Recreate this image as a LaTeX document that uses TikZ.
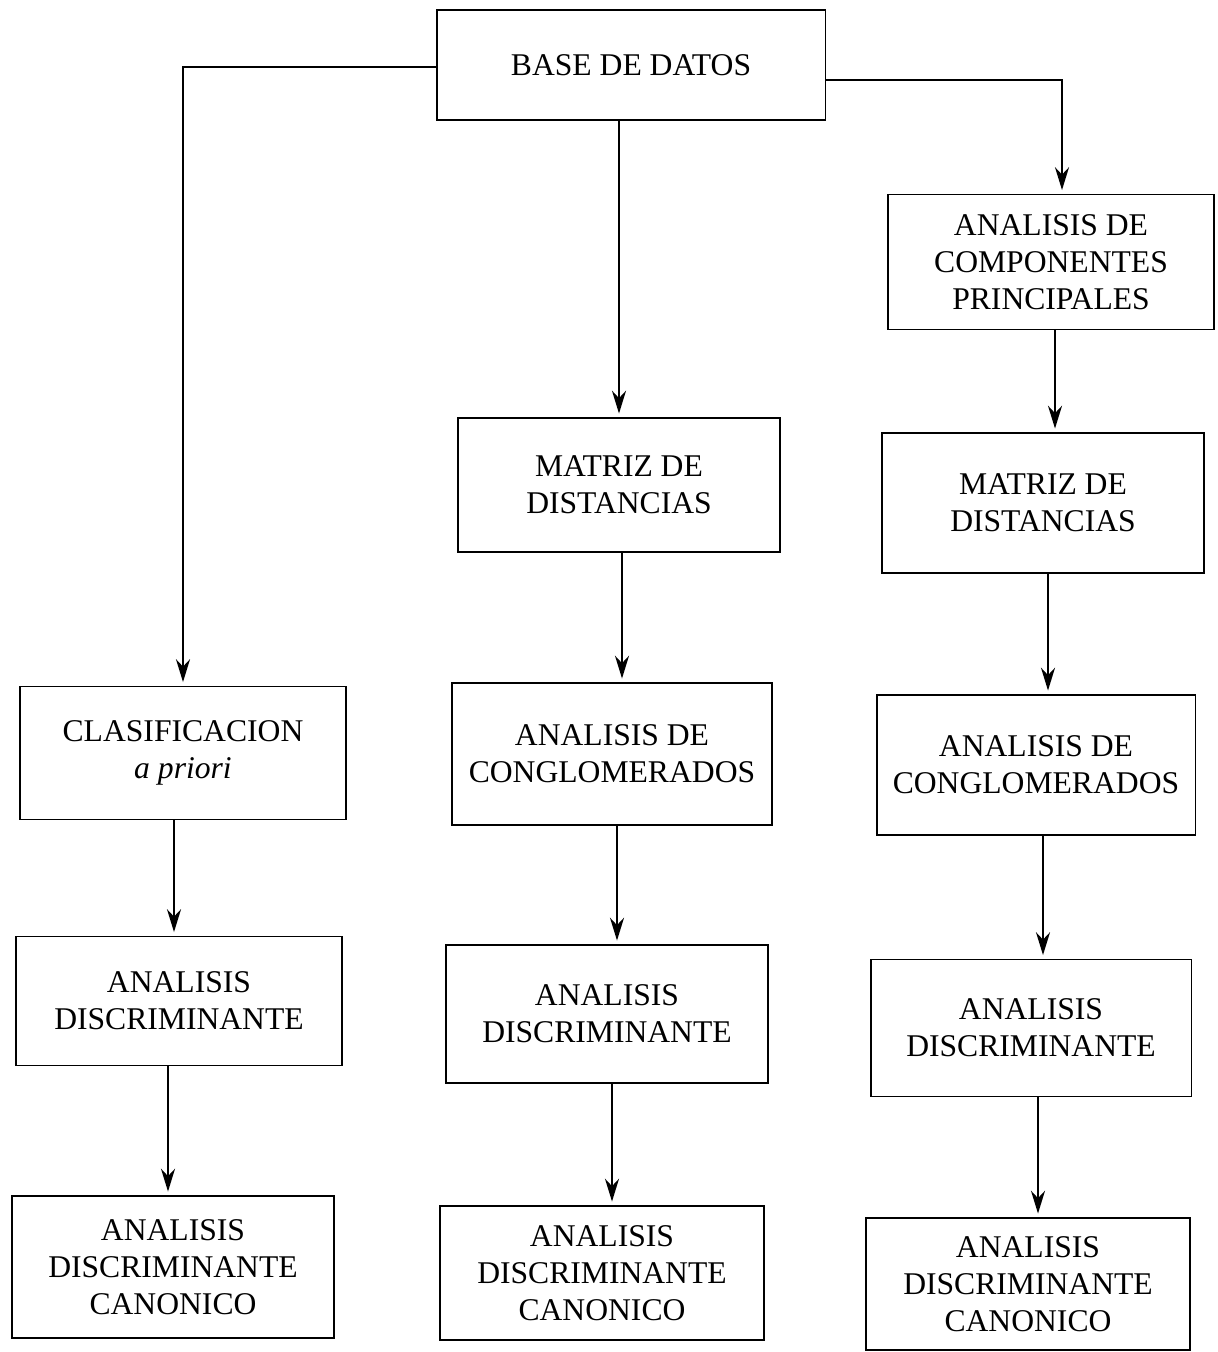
\documentclass[tikz,border=0pt]{standalone}
\usepackage{fontspec}
\setmainfont{Liberation Serif}
\usetikzlibrary{arrows.meta}
\begin{document}
\begin{tikzpicture}[x=0.02cm,y=-0.02cm,
  box/.style={draw, line width=1.1pt, align=center, inner sep=2pt,
    font=\fontsize{18}{21}\selectfont, minimum width=6.5cm, minimum height=2.7cm},
  arr/.style={draw, line width=1pt, -{Stealth[length=13pt,width=8pt]}, shorten >=2pt}]
\useasboundingbox (0,0) rectangle (1217,1352);
\node[box, minimum width=7.78cm, minimum height=2.2cm] (base) at (631,65) {BASE DE DATOS};
% left column
\node[box, minimum width=6.52cm, minimum height=2.66cm] (c1) at (183,753) {CLASIFICACION\\\textit{a priori}};
\node[box, minimum width=6.52cm, minimum height=2.58cm] (d1) at (179,1001) {ANALISIS\\DISCRIMINANTE};
\node[box, minimum width=6.44cm, minimum height=2.84cm] (k1) at (173,1267) {ANALISIS\\DISCRIMINANTE\\CANONICO};
% middle column
\node[box, minimum width=6.44cm, minimum height=2.68cm] (m2) at (619,485) {MATRIZ DE\\DISTANCIAS};
\node[box, minimum width=6.4cm, minimum height=2.84cm] (g2) at (612,754) {ANALISIS DE\\CONGLOMERADOS};
\node[box, minimum width=6.44cm, minimum height=2.76cm] (d2) at (607,1014) {ANALISIS\\DISCRIMINANTE};
\node[box, minimum width=6.48cm, minimum height=2.68cm] (k2) at (602,1273) {ANALISIS\\DISCRIMINANTE\\CANONICO};
% right column
\node[box, minimum width=6.52cm, minimum height=2.7cm] (p3) at (1051,262) {ANALISIS DE\\COMPONENTES\\PRINCIPALES};
\node[box, minimum width=6.44cm, minimum height=2.8cm] (m3) at (1043,503) {MATRIZ DE\\DISTANCIAS};
\node[box, minimum width=6.38cm, minimum height=2.8cm] (g3) at (1036,765) {ANALISIS DE\\CONGLOMERADOS};
\node[box, minimum width=6.42cm, minimum height=2.74cm] (d3) at (1031,1028) {ANALISIS\\DISCRIMINANTE};
\node[box, minimum width=6.48cm, minimum height=2.64cm] (k3) at (1028,1284) {ANALISIS\\DISCRIMINANTE\\CANONICO};
% connectors
\draw[arr] ([yshift=-0.04cm]base.west) -| (c1.north);
\draw[arr] (m2.north |- base.south) -- (m2.north);
\draw[arr] ([yshift=-0.3cm]base.east) -| ([xshift=0.22cm]p3.north);
\draw[arr] ([xshift=-0.18cm]c1.south) -- ([xshift=-0.18cm]c1.south |- d1.north);
\draw[arr] ([xshift=-0.22cm]d1.south) -- ([xshift=-0.22cm]d1.south |- k1.north);
\draw[arr] ([xshift=0.06cm]m2.south) -- ([xshift=0.06cm]m2.south |- g2.north);
\draw[arr] ([xshift=0.1cm]g2.south) -- ([xshift=0.1cm]g2.south |- d2.north);
\draw[arr] ([xshift=0.1cm]d2.south) -- ([xshift=0.1cm]d2.south |- k2.north);
\draw[arr] ([xshift=0.08cm]p3.south) -- ([xshift=0.08cm]p3.south |- m3.north);
\draw[arr] ([xshift=0.1cm]m3.south) -- ([xshift=0.1cm]m3.south |- g3.north);
\draw[arr] ([xshift=0.14cm]g3.south) -- ([xshift=0.14cm]g3.south |- d3.north);
\draw[arr] ([xshift=0.14cm]d3.south) -- ([xshift=0.14cm]d3.south |- k3.north);
\end{tikzpicture}
\end{document}
